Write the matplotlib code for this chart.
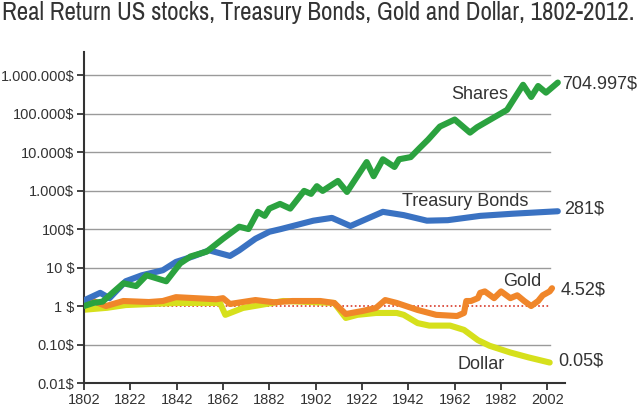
import matplotlib.pyplot as plt
from matplotlib import font_manager

# data (value of 1$ invested in 1802, real terms)
shares_years = [1802, 1806, 1810, 1815, 1819, 1824.5, 1829, 1837.5, 1843.5, 1848, 1855, 1862, 1869,
                1873, 1877, 1880, 1882, 1886.6, 1891, 1897, 1900, 1902.5, 1905, 1911.6, 1915.5,
                1924, 1927, 1931, 1936, 1938, 1943, 1947, 1950.5, 1955.6, 1962, 1968.6,
                1971.6, 1984.6, 1991.5, 1995, 1998, 2001.4, 2006.5]
shares = [1.0, 1.2, 1.3, 2.4, 3.9, 3.3, 6.3, 4.4, 12.8, 19.4, 26, 56, 115,
          100, 280, 220, 340, 450, 340, 980, 820, 1300, 980, 1780, 920,
          5500, 2360, 6500, 4100, 6500, 7400, 13000, 21000, 46000, 70000, 32000,
          44000, 125000, 560000, 270000, 520000, 350000, 640000]

bonds_years = [1802, 1809, 1813, 1820, 1827, 1836, 1841.7, 1849, 1856, 1865, 1869, 1876, 1882,
               1887, 1901, 1909, 1917, 1931, 1940, 1950, 1959, 1973, 1987, 2006.5]
bonds = [1.4, 2.2, 1.6, 4.4, 6.3, 8.5, 14, 19.4, 28, 20, 28, 56, 85,
         100, 165, 195, 120, 280, 230, 165, 170, 220, 250, 290]

gold_years = [1802, 1806, 1811.5, 1819, 1830, 1836, 1841.7, 1859, 1862, 1865, 1876, 1884,
              1892, 1904, 1910, 1915, 1922, 1928, 1932, 1937, 1946, 1954, 1963, 1966,
              1967, 1969, 1972, 1973, 1975, 1979, 1982, 1986, 1989, 1992, 1995, 1998, 2000,
              2003, 2004]
gold = [1.2, 1.35, 1.0, 1.35, 1.27, 1.35, 1.7, 1.5, 1.6, 1.13, 1.43, 1.25,
        1.35, 1.35, 1.2, 0.62, 0.74, 0.89, 1.43, 1.2, 0.79, 0.59, 0.55, 0.66,
        1.35, 1.35, 1.6, 2.2, 2.4, 1.6, 2.4, 1.6, 1.9, 1.35, 1.0, 1.35, 1.9,
        2.4, 2.9]

dollar_years = [1802, 1812, 1820, 1841.7, 1860.7, 1863, 1870.6, 1878, 1888, 1910, 1915, 1920,
                1928, 1937, 1940, 1946, 1951, 1960, 1966, 1972, 1977, 1986, 1994, 2003]
dollar = [0.8, 0.9, 1.06, 1.2, 1.2, 0.59, 0.89, 1.06, 1.35, 1.2, 0.49, 0.59,
          0.66, 0.66, 0.59, 0.36, 0.31, 0.31, 0.24, 0.13, 0.093, 0.062, 0.046, 0.034]

y_ticks = [0.01, 0.1, 1, 10, 100, 1000, 10000, 100000, 1000000]
y_labels = ['0.01$', '0.10$', '1 $', '10 $', '100$', '1.000$', '10.000$', '100.000$', '1.000.000$']
x_ticks = list(range(1802, 2003, 20))

installed = {f.name for f in font_manager.fontManager.ttflist}
narrow = [n for n in sorted(installed) if 'Narrow' in n or 'Condensed' in n]
title_family = narrow[:1] + ['Liberation Sans', 'DejaVu Sans']
plt.rcParams['font.family'] = ['Liberation Sans', 'DejaVu Sans']

fig = plt.figure(figsize=(6.4, 4.08), dpi=100)
ax = fig.add_axes([84 / 640, 1 - 383 / 408, (565 - 84) / 640, (383 - 52) / 408])

text_col = '#333333'
lw = 4.4

# grid lines, stop short of the axis end
for v in y_ticks[1:]:
    if v == 1:
        continue
    ax.plot([1802, 2003], [v, v], color='#9a9a9a', lw=1.0, zorder=1)
ax.plot([1802, 2003], [1, 1], color='#d83a2a', lw=1.2, ls=(0, (1, 1.5)), zorder=1)

style = dict(lw=lw, solid_joinstyle='round', solid_capstyle='round')
ax.plot(dollar_years, dollar, color='#d6e01c', zorder=2, **style)
ax.plot(gold_years, gold, color='#f0862a', zorder=3, **style)
ax.plot(bonds_years, bonds, color='#3a72c2', zorder=4, **style)
ax.plot(shares_years, shares, color='#2ba23f', zorder=5, **style)

ax.set_yscale('log')
ax.set_ylim(0.01, 10 ** 6.6)
ax.set_xlim(1802, 2009.6)
ax.set_yticks(y_ticks)
ax.set_yticklabels(y_labels)
ax.minorticks_off()
ax.set_xticks(x_ticks)
ax.tick_params(axis='both', labelsize=10.5, colors=text_col, length=5, width=1.3, pad=2)

ax.spines['top'].set_visible(False)
ax.spines['right'].set_visible(False)
ax.spines['left'].set_linewidth(1.5)
ax.spines['bottom'].set_linewidth(1.5)
ax.spines['left'].set_color('#333333')
ax.spines['bottom'].set_color('#333333')

# series names
lab = dict(fontsize=13, color=text_col, ha='center', va='center')
ax.text(1973, 3.1e5, 'Shares', **lab)
ax.text(1966.4, 510, 'Treasury Bonds', **lab)
ax.text(1991, 4.4, 'Gold', **lab)
ax.text(1973.3, 0.030, 'Dollar', **lab)

# end values
end = dict(fontsize=13, color=text_col, ha='left', va='center', clip_on=False)
ax.text(2008.5, 5.9e5, '704.997$', **end)
ax.text(2009.2, 340, '281$', **end)
ax.text(2007.5, 2.6, '4.52$', **end)
ax.text(2006.5, 0.038, '0.05$', **end)

title = fig.text(0.003, 0.998, 'Real Return US stocks, Treasury Bonds, Gold and Dollar, 1802-2012.',
                 family=title_family, fontsize=16, color=text_col, ha='left', va='top')
# scale the title so it spans the width of the picture, as in the reference
renderer = fig.canvas.get_renderer()
width = title.get_window_extent(renderer).width
title.set_fontsize(min(20, 16 * 634 / width))

fig.savefig('out.png', dpi=100)
